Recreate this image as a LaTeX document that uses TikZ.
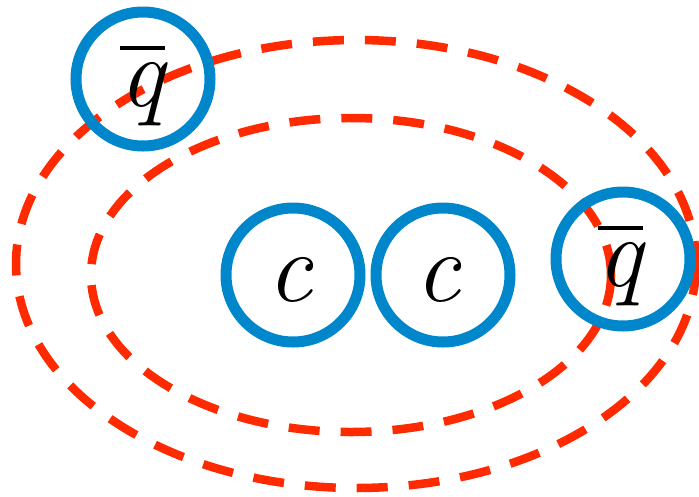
\documentclass[tikz,border=0pt]{standalone}
\definecolor{qblue}{HTML}{0087CB}
\definecolor{qred}{HTML}{FF2A00}
\newcommand{\qbarglyph}{\vbox{\hrule height 4pt\kern 13pt\hbox{\itshape q}}}
\begin{document}
\begin{tikzpicture}[x=1pt,y=-1pt,
  ring/.style={circle,draw=qblue,line width=11pt,minimum size=134pt,inner sep=0pt},
  glyph/.style={font=\fontsize{100}{100}\selectfont\itshape,inner sep=0pt},
  dashring/.style={draw=qred,line width=8.5pt,dash pattern=on 31pt off 21pt}]
\useasboundingbox (0,0) rectangle (699,496);
% dashed ellipses
\draw[dashring] (356,264) ellipse [x radius=340, y radius=224];
\draw[dashring] (351,275) ellipse [x radius=260, y radius=157];
% rings
\node[ring] (q1) at (143,79) {};
\node[ring] (c1) at (293,275) {};
\node[ring] (c2) at (443,275) {};
\node[ring] (q2) at (623,259) {};
% labels
\node[glyph] (tq1) at (142,86) {\qbarglyph};
\node[glyph] (tc1) at (290,280) {c};
\node[glyph] (tc2) at (438,280) {c};
\node[glyph] (tq2) at (620,266) {\qbarglyph};
\end{tikzpicture}
\end{document}
